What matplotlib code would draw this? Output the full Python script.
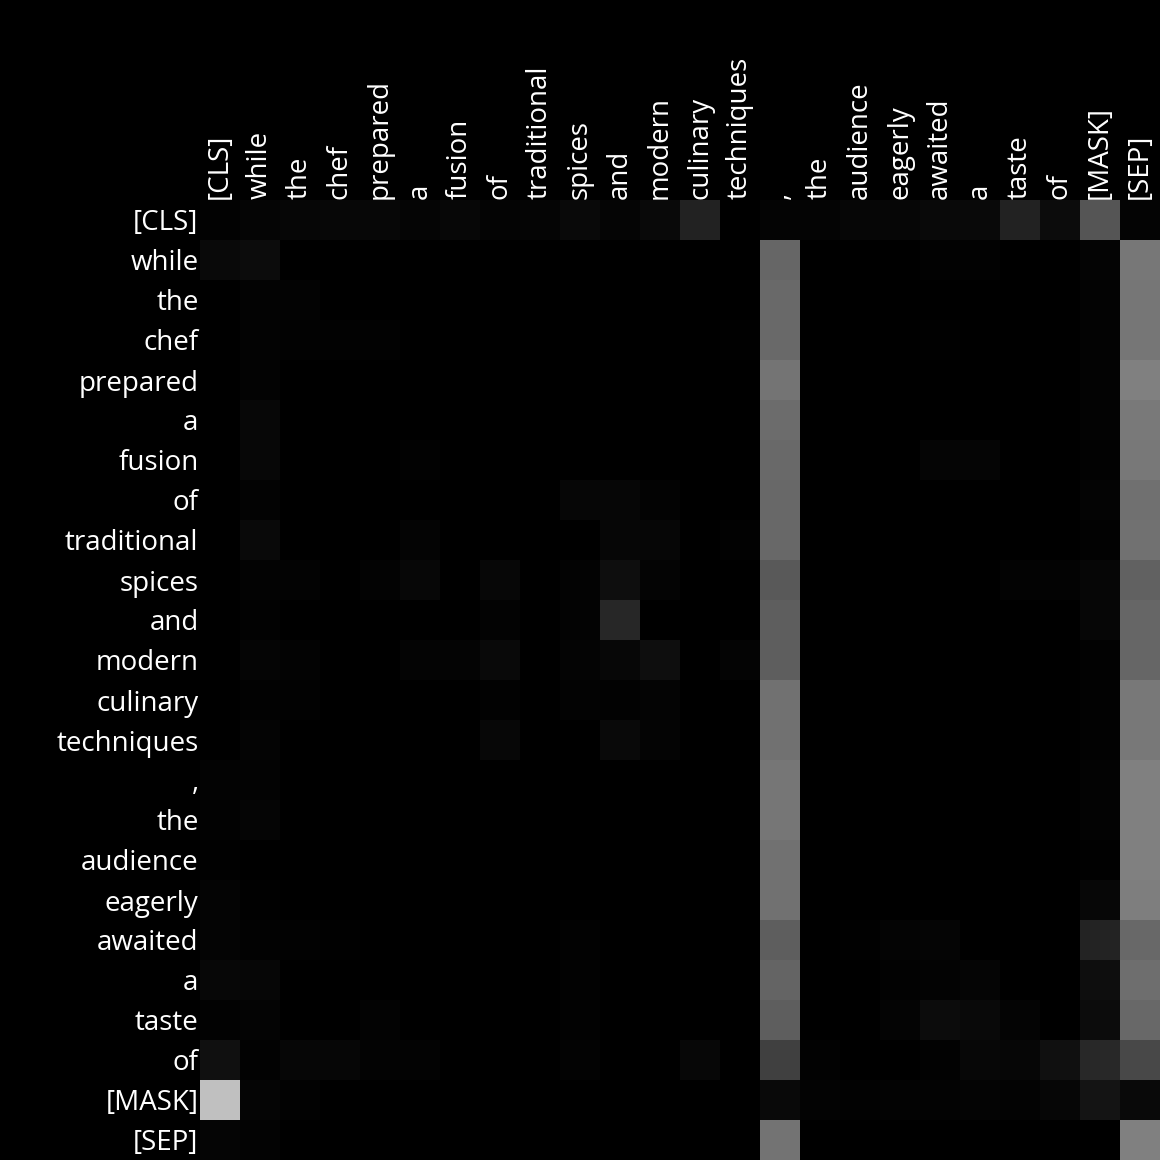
import matplotlib
matplotlib.use("Agg")
import matplotlib.pyplot as plt
import numpy as np

tokens = ["[CLS]", "while", "the", "chef", "prepared", "a", "fusion", "of",
          "traditional", "spices", "and", "modern", "culinary", "techniques",
          ",", "the", "audience", "eagerly", "awaited", "a", "taste", "of",
          "[MASK]", "[SEP]"]

# attention weights in percent, rows = query token, cols = key token
attn = [
    [0.8, 2.0, 2.7, 3.1, 3.1, 2.0, 3.1, 1.6, 2.0, 3.9, 2.0, 3.9, 13.3, 0, 1.6, 1.6, 2.7, 2.7, 3.9, 3.9, 13.3, 4.7, 33.3, 1.6],
    [3.9, 4.7, 0, 0, 0, 0, 0, 0, 0, 0, 0, 0, 0, 0, 40.0, 0, 0, 0, 0.8, 0.8, 0, 0, 1.6, 46.7],
    [0, 1.2, 1.2, 0, 0, 0, 0, 0, 0, 0, 0, 0, 0, 0, 41.6, 0, 0, 0, 0, 0, 0, 0, 1.2, 46.3],
    [0, 1.2, 0.8, 0.8, 0.8, 0, 0, 0, 0, 0, 0, 0, 0, 0.4, 41.6, 0, 0, 0, 0.4, 0, 0, 0, 1.2, 46.3],
    [0, 1.2, 0, 0, 0, 0, 0, 0, 0, 0, 0, 0, 0, 0, 45.5, 0, 0, 0, 0, 0, 0, 0, 1.2, 50.2],
    [0, 3.1, 0, 0, 0, 0, 0, 0, 0, 0, 0, 0, 0, 0, 42.4, 0, 0, 0, 0, 0, 0, 0, 1.2, 47.8],
    [0, 3.1, 0, 0, 0, 0.8, 0, 0, 0, 0, 0, 0, 0, 0, 41.6, 0, 0, 0, 2.0, 2.0, 0, 0, 0.8, 47.1],
    [0, 1.2, 0, 0, 0, 0, 0, 0, 0, 2.4, 2.4, 1.2, 0, 0, 40.8, 0, 0, 0, 0, 0, 0, 0, 1.6, 43.9],
    [0, 3.9, 0, 0, 0, 1.6, 0, 0, 0, 0, 2.4, 2.4, 0, 0.8, 40.8, 0, 0, 0, 0, 0, 0, 0, 0.8, 44.7],
    [0, 1.2, 1.2, 0, 1.2, 3.1, 0, 3.1, 0, 1.2, 5.5, 1.6, 0, 0, 35.3, 0, 0, 0, 0, 0, 1.2, 1.2, 2.4, 38.4],
    [0, 0.8, 0, 0, 0, 0, 0, 1.2, 0, 1.2, 15.3, 0, 0, 0, 36.9, 0, 0, 0, 0, 0, 0, 0, 2.4, 40.0],
    [0, 2.0, 1.2, 0, 0, 1.6, 1.6, 3.9, 0, 1.6, 3.1, 5.5, 0, 1.6, 36.9, 0, 0, 0, 0, 0, 0, 0, 0.8, 40.0],
    [0, 0.8, 0.8, 0, 0, 0, 0, 0.8, 0, 1.2, 0.8, 1.6, 0, 0, 44.7, 0, 0, 0, 0, 0, 0, 0, 0.8, 47.1],
    [0, 1.6, 0, 0, 0, 0, 0, 3.1, 0, 0, 3.9, 1.6, 0, 0, 44.7, 0, 0, 0, 0, 0, 0, 0, 0.8, 47.1],
    [1.2, 1.2, 0, 0, 0, 0, 0, 0, 0, 0, 0, 0, 0, 0, 46.3, 0, 0, 0, 0, 0, 0, 0, 1.2, 50.2],
    [0.8, 2.0, 0, 0, 0, 0, 0, 0, 0, 0, 0, 0, 0, 0, 46.3, 0, 0, 0, 0, 0, 0, 0, 1.2, 50.2],
    [0.4, 0, 0, 0, 0, 0, 0, 0, 0, 0, 0, 0, 0, 0, 44.7, 0, 0, 0, 0, 0, 0, 0, 0.4, 50.2],
    [1.6, 0.4, 0, 0, 0, 0, 0, 0, 0, 0, 0, 0, 0, 0, 44.7, 0, 0, 0, 0, 0, 0, 0, 3.1, 49.4],
    [1.6, 0.8, 0.8, 0.4, 0, 0, 0, 0, 0, 0.8, 0, 0, 0, 0, 36.9, 0, 0.4, 1.6, 2.0, 0, 0, 0, 13.7, 40.8],
    [3.1, 2.4, 0, 0, 0, 0, 0, 0, 0, 0.8, 0, 0, 0, 0, 39.2, 0, 0, 0.8, 1.2, 2.0, 0, 0, 5.5, 43.1],
    [0.8, 1.6, 0, 0, 1.2, 0, 0, 0, 0, 0.8, 0, 0, 0, 0, 36.9, 0, 0, 1.6, 4.7, 3.9, 1.6, 0, 4.7, 40.8],
    [6.3, 0.8, 2.4, 2.4, 1.2, 1.2, 0, 0, 0, 1.2, 0, 0, 3.1, 0, 25.1, 0.8, 0, 0, 0.8, 3.1, 2.7, 6.3, 15.7, 28.2],
    [75.3, 2.0, 0.8, 0, 0, 0, 0, 0, 0, 0, 0, 0, 0, 0, 3.9, 1.2, 0.8, 1.2, 1.2, 1.6, 1.2, 2.4, 8.2, 3.9],
    [2.0, 1.2, 0, 0, 0, 0, 0, 0, 0, 0, 0, 0, 0, 0, 45.1, 0, 0, 0, 0, 0, 0, 0, 0, 50.2],
]

plt.rcParams["font.family"] = ["Open Sans", "DejaVu Sans"]
fig = plt.figure(figsize=(11.6, 11.6), dpi=100, facecolor="black")
ax = fig.add_axes([200 / 1160, 0, 960 / 1160, 960 / 1160])
ax.imshow(np.array(attn) / 100, cmap="gray", vmin=0, vmax=1, aspect="auto", interpolation="nearest")
ax.set_xticks(range(len(tokens)))
ax.set_xticklabels(tokens, rotation=90, color="white", fontsize=20)
ax.set_yticks(range(len(tokens)))
ax.set_yticklabels(tokens, color="white", fontsize=20)
ax.xaxis.tick_top()
ax.tick_params(length=0, pad=1)
for s in ax.spines.values():
    s.set_visible(False)
fig.savefig("out.png", dpi=100, facecolor="black")
